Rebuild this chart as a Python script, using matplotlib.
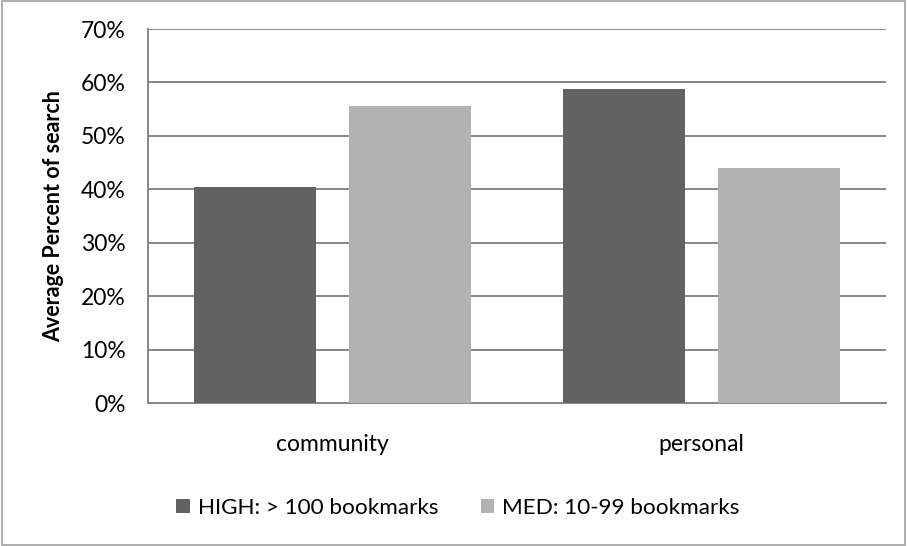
import matplotlib
matplotlib.use("Agg")
import matplotlib.pyplot as plt
import numpy as np
from matplotlib.patches import Rectangle

categories = ["community", "personal"]
series_names = ["HIGH: > 100 bookmarks", "MED: 10-99 bookmarks"]
high_values = [40.4, 58.8]
med_values = [55.6, 44.0]
y_ticks = [0, 10, 20, 30, 40, 50, 60, 70]
y_tick_labels = ["0%", "10%", "20%", "30%", "40%", "50%", "60%", "70%"]

dark = "#626262"
light = "#b2b2b2"
grid_c = "#878787"

plt.rcParams['font.family'] = ['Lato', 'DejaVu Sans']

fig = plt.figure(figsize=(9.07, 5.46), dpi=100)
ax = fig.add_axes([148/907, 1-403/546, (886-148)/907, (403-29)/546])

x = np.arange(len(categories))
w = 0.33
off = 0.209
ax.bar(x - off, high_values, w, color=dark, label=series_names[0], zorder=3)
ax.bar(x + off, med_values, w, color=light, label=series_names[1], zorder=3)

ax.set_xlim(-0.5, 1.5)
ax.set_ylim(0, 70)
ax.set_yticks(y_ticks)
ax.set_yticklabels(y_tick_labels, fontsize=16.5)
ax.set_xticks(x)
ax.set_xticklabels(categories, fontsize=16.5)
ax.tick_params(axis='y', length=0, pad=16)
ax.tick_params(axis='x', length=0, pad=22)
ax.yaxis.grid(True, color=grid_c, linewidth=1.4, zorder=0)
for s in ["top", "right"]:
    ax.spines[s].set_visible(False)
ax.spines["left"].set_color(grid_c)
ax.spines["bottom"].set_color(grid_c)
ax.spines["left"].set_linewidth(1.4)
ax.spines["bottom"].set_linewidth(1.4)
ax.set_ylabel("Average Percent of search", fontsize=15.5, fontweight="bold", labelpad=12)

leg = fig.legend(loc="center", bbox_to_anchor=(458/907, 1-508/546), ncol=2, frameon=False,
                 fontsize=16.2, handlelength=0.6, handleheight=0.6, columnspacing=1.9,
                 handletextpad=0.35)

fig.patches.append(Rectangle((0.002, 0.002), 0.996, 0.996, transform=fig.transFigure,
                             fill=False, edgecolor="#a0a0a0", linewidth=1.2))

fig.savefig("out.png", dpi=100, facecolor="white")
